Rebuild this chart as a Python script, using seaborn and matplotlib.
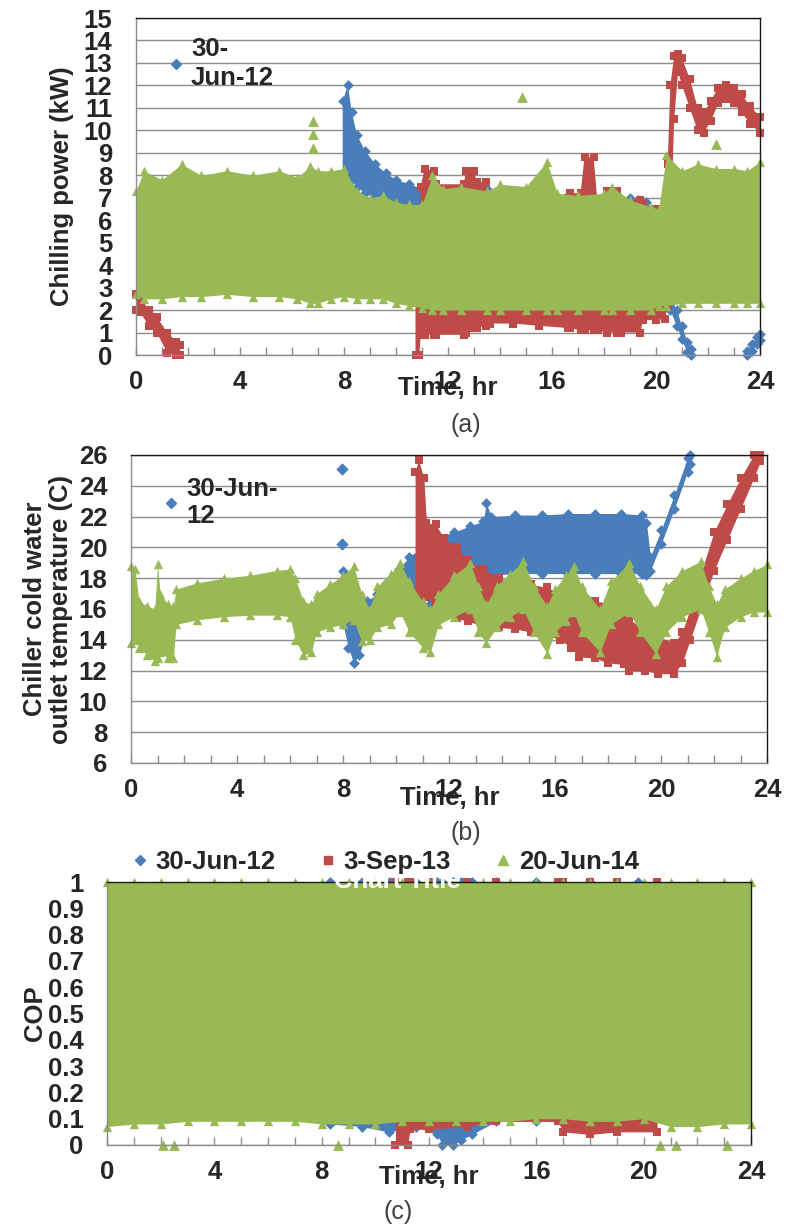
import numpy as np
import pandas as pd
import matplotlib
matplotlib.use("Agg")
import matplotlib.pyplot as plt
from matplotlib.lines import Line2D
import seaborn as sns

NA = np.nan

# ---------------- series names ----------------
series_names = ["30-Jun-12", "3-Sep-13", "20-Jun-14"]

# ---------------- (a) chilling power, kW : time, lower and upper extent ----------------
a_blue_t = [7.95, 8.15, 8.3, 8.5, 8.8, 9.2, 9.6, 10.0, 10.5, 11.0, 11.5, 12.5, 13.5, 14.5, 15.5,
            16.5, 17.5, 18.5, 19.0, 19.3, 19.6, 20.0, 20.2, 20.35, 20.55, 20.8, 21.0, 21.2, 21.35,
            NA, 23.5, 23.7, 23.9, 24.0]
a_blue_lo = [8.0, 8.0, 7.8, 7.5, 7.2, 7.0, 6.8, 6.7, 6.5, 6.3, 6.2, 6.0, 6.0, 6.0, 5.9,
             5.9, 5.9, 5.9, 5.9, 5.8, 5.5, 5.2, 4.5, 3.3, 2.0, 1.3, 0.7, 0.15, 0.0,
             NA, 0.0, 0.2, 0.5, 0.65]
a_blue_hi = [11.3, 12.0, 10.8, 9.8, 9.1, 8.5, 8.1, 7.8, 7.6, 7.4, 7.3, 7.3, 7.4, 7.2, 7.2,
             7.0, 7.0, 7.1, 7.0, 6.9, 6.8, 6.4, 5.8, 4.5, 2.6, 2.0, 1.3, 0.6, 0.25,
             NA, 0.2, 0.5, 0.8, 0.95]

a_red_t = [0.0, 0.15, 0.5, 0.8, 1.2, 1.55, 1.7, NA,
           10.75, 10.9, 10.95, 11.1, 11.45, 11.55, 12.6, 12.7, 13.0, 13.1, 13.45, 13.6, 14.5,
           15.5, 16.6, 16.7, 17.1, 17.25, 17.6, 17.75, 18.1, 18.5, 18.65, 19.4, 19.5, 20.0,
           20.35, 20.45, 20.55, 20.7, 20.85, 21.0, 21.3, 21.6, 21.85, 22.1, 22.4, 22.7, 23.0,
           23.3, 23.6, 24.0]
a_red_lo = [2.0, 1.9, 1.3, 1.0, 0.1, 0.0, 0.0, NA,
            0.0, 0.0, 0.9, 0.9, 0.9, 0.9, 0.9, 1.0, 1.2, 1.2, 1.3, 1.4, 1.4,
            1.3, 1.2, 1.2, 1.1, 1.1, 1.1, 1.1, 1.0, 1.0, 1.0, 1.0, 1.55, 1.55,
            1.6, 2.2, 5.0, 10.5, 12.6, 12.0, 11.0, 10.0, 9.9, 10.4, 11.2, 11.4, 11.2,
            10.8, 10.3, 9.9]
a_red_hi = [2.7, 2.6, 2.0, 1.7, 1.0, 0.6, 0.45, NA,
            2.3, 2.3, 7.5, 8.3, 8.2, 7.6, 7.6, 8.2, 8.2, 7.7, 7.7, 6.7, 6.8,
            6.7, 6.7, 7.2, 7.2, 8.8, 8.8, 6.8, 7.3, 7.3, 6.9, 6.9, 6.7, 6.5,
            6.0, 8.5, 12.0, 13.3, 13.4, 13.2, 12.3, 11.0, 10.8, 11.3, 11.9, 12.0, 11.9,
            11.6, 11.1, 10.6]

a_green_t = [0.0, 0.3, 1.0, 1.75, 2.5, 3.5, 4.5, 5.5, 6.2, 6.7, 7.0, 7.5, 8.0, 8.5, 9.0, 9.5,
             10.0, 10.5, 11.0, 11.4, 11.8, 12.5, 13.5, 14.0, 15.0, 15.8, 16.2, 17.0, 18.0,
             18.3, 19.0, 19.8, 20.1, 20.4, 21.0, 21.6, 22.3, 23.0, 23.5, 24.0]
a_green_lo = [2.7, 2.5, 2.5, 2.6, 2.6, 2.7, 2.6, 2.6, 2.5, 2.3, 2.3, 2.5, 2.6, 2.5, 2.5, 2.5,
              2.3, 2.2, 2.1, 2.0, 2.0, 2.0, 2.0, 2.0, 2.0, 2.0, 2.0, 2.0, 2.0,
              2.0, 2.0, 2.0, 2.2, 2.2, 2.3, 2.3, 2.3, 2.3, 2.3, 2.3]
a_green_hi = [7.3, 8.2, 7.8, 8.5, 8.0, 8.2, 8.0, 8.2, 7.9, 8.4, 8.2, 8.2, 8.3, 7.3, 7.0, 7.1,
              6.8, 6.7, 6.7, 8.0, 7.4, 7.5, 7.3, 7.6, 7.5, 8.6, 7.2, 7.1, 7.2,
              7.5, 6.9, 6.6, 6.5, 8.9, 8.2, 8.5, 8.3, 8.3, 8.2, 8.6]
a_green_iso_t = [6.8, 6.8, 6.8, 14.85, 22.3]
a_green_iso_v = [10.4, 9.85, 9.2, 11.5, 9.4]

# ---------------- (b) chiller cold water outlet temperature, C ----------------
b_blue_t = [8.0, 8.2, 8.4, 8.6, 8.9, 9.3, 9.7, 10.1, 10.5, 10.9, 11.3, 11.6, 12.2, 12.8, 13.3,
            13.4, 13.6, 14.5, 15.5, 16.5, 17.5, 18.5, 19.3, 19.45, 19.6, 20.0, 20.5, 21.0, 21.1]
b_blue_lo = [15.0, 13.5, 12.5, 13.0, 14.5, 15.0, 15.5, 16.0, 16.5, 17.0, 16.3, 18.0, 18.2, 18.2,
             18.2, 18.2, 18.2, 18.3, 18.3, 18.3, 18.3, 18.3, 18.3, 18.2, 18.5, 20.2, 22.5, 24.9, 25.4]
b_blue_hi = [18.5, 16.5, 15.5, 15.5, 16.5, 17.0, 17.8, 18.6, 19.4, 19.9, 20.3, 20.7, 21.0, 21.4,
             21.7, 22.9, 22.0, 22.1, 22.1, 22.2, 22.2, 22.2, 22.1, 21.6, 19.4, 21.1, 23.4, 25.8, 26.0]
b_blue_iso_t = [7.98, 7.98]
b_blue_iso_v = [25.1, 20.2]

b_red_t = [10.72, 10.85, 11.05, 11.15, 11.5, 11.8, 12.3, 12.7, 13.3, 13.9, 14.5, 15.1, 15.7,
           16.2, 16.6, 16.9, 17.5, 18.0, 18.6, 18.8, 19.4, 19.9, 20.5, 20.8, 21.1, 21.5, 22.0,
           22.5, 23.0, 23.5, 23.75]
b_red_lo = [17.0, 17.0, 16.8, 16.8, 16.3, 15.9, 15.4, 15.2, 14.9, 14.8, 14.7, 14.5, 14.3,
            14.0, 13.5, 12.9, 12.8, 12.5, 12.4, 12.0, 12.0, 11.8, 11.8, 12.5, 14.0, 16.0, 18.5,
            20.5, 22.5, 24.5, 25.6]
b_red_hi = [24.9, 25.7, 24.5, 21.6, 21.5, 20.6, 20.0, 19.2, 18.6, 18.0, 17.7, 17.6, 17.4,
            17.0, 16.8, 16.7, 16.5, 16.4, 16.1, 15.3, 14.7, 14.2, 13.8, 14.5, 16.0, 18.3, 21.0,
            22.8, 24.5, 26.0, 26.0]

b_green_t = [0.0, 0.15, 0.3, 0.6, 0.9, 1.0, 1.1, 1.4, 1.6, 1.7, 2.5, 3.5, 4.5, 5.5, 6.0, 6.2,
             6.5, 6.8, 7.0, 7.5, 8.0, 8.4, 8.7, 9.0, 9.3, 9.8, 10.15, 10.5, 11.0, 11.3, 11.6,
             12.2, 12.8, 13.1, 13.4, 13.8, 14.3, 14.8, 15.2, 15.7, 16.0, 16.4, 16.7, 17.0, 17.7,
             18.1, 18.8, 19.2, 19.8, 20.2, 20.8, 21.5, 21.8, 22.1, 22.4, 23.0, 23.5, 24.0]
b_green_lo = [13.8, 14.0, 13.5, 13.0, 12.6, 12.8, 13.2, 12.8, 12.8, 15.0, 15.3, 15.5, 15.6,
              15.6, 15.5, 14.0, 13.0, 13.2, 14.5, 14.8, 15.0, 15.3, 13.9, 14.0, 14.8, 15.0,
              15.8, 14.5, 13.5, 13.2, 15.0, 15.5, 16.0, 14.5, 13.8, 14.8, 15.5, 16.0, 14.5,
              13.1, 14.5, 15.2, 15.8, 14.5, 13.2, 15.0, 15.8, 14.5, 13.1, 14.5, 15.5, 16.0,
              14.5, 12.9, 14.8, 15.5, 15.8, 15.8]
b_green_hi = [18.8, 18.6, 16.5, 16.2, 16.0, 18.9, 17.0, 16.3, 16.2, 17.3, 17.7, 18.0, 18.2,
              18.5, 18.6, 18.0, 16.5, 16.3, 17.0, 17.6, 18.2, 18.8, 17.0, 16.0, 17.5, 18.3,
              19.0, 17.8, 16.5, 16.0, 17.0, 18.2, 19.0, 17.5, 16.3, 17.5, 18.3, 19.1, 17.5,
              16.2, 17.3, 18.2, 18.8, 17.5, 16.0, 17.8, 19.0, 17.5, 16.0, 17.5, 18.5, 19.1,
              17.5, 16.3, 17.3, 18.0, 18.5, 18.9]

# ---------------- (c) COP ----------------
c_blue_t = [8.3, 9.5, 10.5, 11.5, 12.3, 12.5, 12.9, 13.2, 13.6, 14.5, 16.0, 18.0, 19.8]
c_blue_lo = [0.08, 0.07, 0.05, 0.07, 0.04, 0.0, 0.0, 0.02, 0.04, 0.09, 0.09, 0.09, 0.09]
c_blue_hi = [1.0] * len(c_blue_t)

c_red_t = [10.75, 11.2, 11.3, 12.0, 13.4, 14.5, 16.8, 17.0, 18.0, 19.0, 20.5]
c_red_lo = [0.0, 0.0, 0.06, 0.06, 0.07, 0.09, 0.09, 0.05, 0.04, 0.05, 0.05]
c_red_hi = [1.0] * len(c_red_t)

c_green_t = list(range(0, 25))
c_green_lo = [0.07, 0.08, 0.08, 0.09, 0.09, 0.09, 0.09, 0.09, 0.08, 0.08, 0.08, 0.09, 0.09,
              0.09, 0.09, 0.09, 0.10, 0.10, 0.09, 0.09, 0.10, 0.07, 0.07, 0.08, 0.08]
c_green_hi = [1.0] * len(c_green_t)
c_green_iso_t = [2.1, 2.5, 8.6, 20.6, 21.2, 23.1]
c_green_iso_v = [0.0, 0.0, 0.0, 0.0, 0.0, 0.0]

# ---------------- axis labels and ticks ----------------
x_ticks = [0, 4, 8, 12, 16, 20, 24]
a_yticks = list(range(0, 16))
b_yticks = list(range(6, 27, 2))
c_yticks = [0.0, 0.1, 0.2, 0.3, 0.4, 0.5, 0.6, 0.7, 0.8, 0.9, 1.0]
c_ytick_labels = ["0", "0.1", "0.2", "0.3", "0.4", "0.5", "0.6", "0.7", "0.8", "0.9", "1"]

# ---------------- style ----------------
sns.set_theme(style="white")
plt.rcParams["font.family"] = ["Liberation Sans", "DejaVu Sans"]
plt.rcParams["font.weight"] = "bold"
plt.rcParams["axes.labelweight"] = "bold"

BLUE = "#4A7EBB"
RED = "#BE4B48"
GREEN = "#98B954"
GRID = "#8C8C8C"
FS = 18.5

fig = plt.figure(figsize=(7.85, 12.27), dpi=100)
W, H = 785.0, 1227.0


def add_axes(l, t, r, b):
    return fig.add_axes([l / W, 1 - b / H, (r - l) / W, (b - t) / H])


def band(ax, t, lo, hi, color, marker, size):
    t = np.asarray(t, float)
    lo = np.asarray(lo, float)
    hi = np.asarray(hi, float)
    ax.fill_between(t, lo, hi, color=color, lw=0, zorder=2)
    pts = pd.DataFrame({"t": np.concatenate([t, t]), "v": np.concatenate([lo, hi])}).dropna()
    sns.scatterplot(data=pts, x="t", y="v", ax=ax, color=color, marker=marker, s=size,
                    linewidth=0, legend=False, zorder=2, clip_on=False)


def points(ax, t, v, color, marker, size):
    pts = pd.DataFrame({"t": t, "v": v})
    sns.scatterplot(data=pts, x="t", y="v", ax=ax, color=color, marker=marker, s=size,
                    linewidth=0, legend=False, zorder=2, clip_on=False)


def style(ax, ylim, yticks, yticklabels=None):
    ax.set_xlim(0, 24)
    ax.set_ylim(*ylim)
    ax.set_xticks(x_ticks)
    ax.set_xticks(range(0, 25), minor=True)
    ax.set_yticks(yticks)
    if yticklabels is not None:
        ax.set_yticklabels(yticklabels)
    ax.yaxis.grid(True, color=GRID, lw=1.0)
    ax.xaxis.grid(False)
    ax.set_axisbelow(True)
    ax.tick_params(axis="x", which="both", direction="in", length=6, width=1, color=GRID,
                   labelsize=FS, pad=11, bottom=True)
    ax.tick_params(axis="y", which="both", length=0, labelsize=FS, pad=17)
    for lab in ax.get_xticklabels() + ax.get_yticklabels():
        lab.set_fontweight("bold")
    for s in ("left", "bottom"):
        ax.spines[s].set_color(GRID)
        ax.spines[s].set_linewidth(1.0)
    for s in ("top", "right"):
        ax.spines[s].set_color("#1A1A1A")
        ax.spines[s].set_linewidth(1.0)
    ax.set_xlabel("Time, hr", fontsize=FS, fontweight="bold")
    ax.xaxis.label.set_va("center")


blue_handle = Line2D([], [], marker="D", color=BLUE, ls="", ms=5)
red_handle = Line2D([], [], marker="s", color=RED, ls="", ms=6)
green_handle = Line2D([], [], marker="^", color=GREEN, ls="", ms=7)

# ---------------- (a) ----------------
ax_a = add_axes(136, 18, 760, 355)
band(ax_a, a_blue_t, a_blue_lo, a_blue_hi, BLUE, "D", 30)
band(ax_a, a_red_t, a_red_lo, a_red_hi, RED, "s", 30)
band(ax_a, a_green_t, a_green_lo, a_green_hi, GREEN, "^", 45)
points(ax_a, a_green_iso_t, a_green_iso_v, GREEN, "^", 60)
style(ax_a, (0, 15), a_yticks)
ax_a.set_ylabel("Chilling power (kW)", fontsize=FS, fontweight="bold")
ax_a.yaxis.label.set_va("center")
ax_a.yaxis.set_label_coords(-0.118, 0.5)
ax_a.xaxis.set_label_coords(0.499, -0.098)
leg = ax_a.legend([blue_handle], ["30-\nJun-12"], loc="upper left",
                  bbox_to_anchor=(0.045, 0.945), frameon=False, fontsize=FS,
                  handletextpad=0.15, handlelength=0.9, borderaxespad=0, borderpad=0)
for tx in leg.get_texts():
    tx.set_fontweight("bold")
    tx.set_linespacing(1.3)
fig.text(466 / W, 1 - 425 / H, "(a)", fontsize=18, fontweight="normal", color="#404040",
         ha="center", va="center")

# ---------------- (b) ----------------
ax_b = add_axes(131, 455, 767, 763)
band(ax_b, b_blue_t, b_blue_lo, b_blue_hi, BLUE, "D", 30)
points(ax_b, b_blue_iso_t, b_blue_iso_v, BLUE, "D", 40)
band(ax_b, b_red_t, b_red_lo, b_red_hi, RED, "s", 30)
band(ax_b, b_green_t, b_green_lo, b_green_hi, GREEN, "^", 45)
style(ax_b, (6, 26), b_yticks)
ax_b.set_ylabel("Chiller cold water\noutlet temperature (C)", fontsize=FS, fontweight="bold")
ax_b.yaxis.label.set_va("center")
ax_b.yaxis.label.set_linespacing(1.1)
ax_b.yaxis.set_label_coords(-0.13, 0.5)
ax_b.xaxis.set_label_coords(0.501, -0.114)
leg = ax_b.legend([blue_handle], ["30-Jun-\n12"], loc="upper left",
                  bbox_to_anchor=(0.045, 0.93), frameon=False, fontsize=FS,
                  handletextpad=0.15, handlelength=0.9, borderaxespad=0, borderpad=0)
for tx in leg.get_texts():
    tx.set_fontweight("bold")
    tx.set_linespacing(1.2)
fig.text(466 / W, 1 - 833 / H, "(b)", fontsize=18, fontweight="normal", color="#404040",
         ha="center", va="center")

# ---------------- (c) ----------------
ax_c = add_axes(107, 882, 751, 1145)
band(ax_c, c_blue_t, c_blue_lo, c_blue_hi, BLUE, "D", 30)
band(ax_c, c_red_t, c_red_lo, c_red_hi, RED, "s", 30)
band(ax_c, c_green_t, c_green_lo, c_green_hi, GREEN, "^", 45)
points(ax_c, c_green_iso_t, c_green_iso_v, GREEN, "^", 60)
style(ax_c, (0, 1), c_yticks, c_ytick_labels)
ax_c.set_ylabel("COP", fontsize=FS, fontweight="bold")
ax_c.yaxis.label.set_va("center")
ax_c.yaxis.set_label_coords(-0.112, 0.5)
ax_c.xaxis.set_label_coords(0.5, -0.122)
leg = ax_c.legend([blue_handle, red_handle, green_handle], series_names, ncol=3,
                  loc="center left", bbox_to_anchor=(128 / W, 1 - 862 / H),
                  bbox_transform=fig.transFigure, frameon=False, fontsize=FS,
                  handletextpad=0.15, handlelength=0.9, columnspacing=1.6,
                  borderaxespad=0, borderpad=0)
for tx in leg.get_texts():
    tx.set_fontweight("bold")
fig.text(397 / W, 1 - 881 / H, "Chart Title", fontsize=FS, fontweight="bold", color="white",
         ha="center", va="center")
fig.text(398 / W, 1 - 1212 / H, "(c)", fontsize=18, fontweight="normal", color="#404040",
         ha="center", va="center")

fig.savefig("out.png", dpi=100)
